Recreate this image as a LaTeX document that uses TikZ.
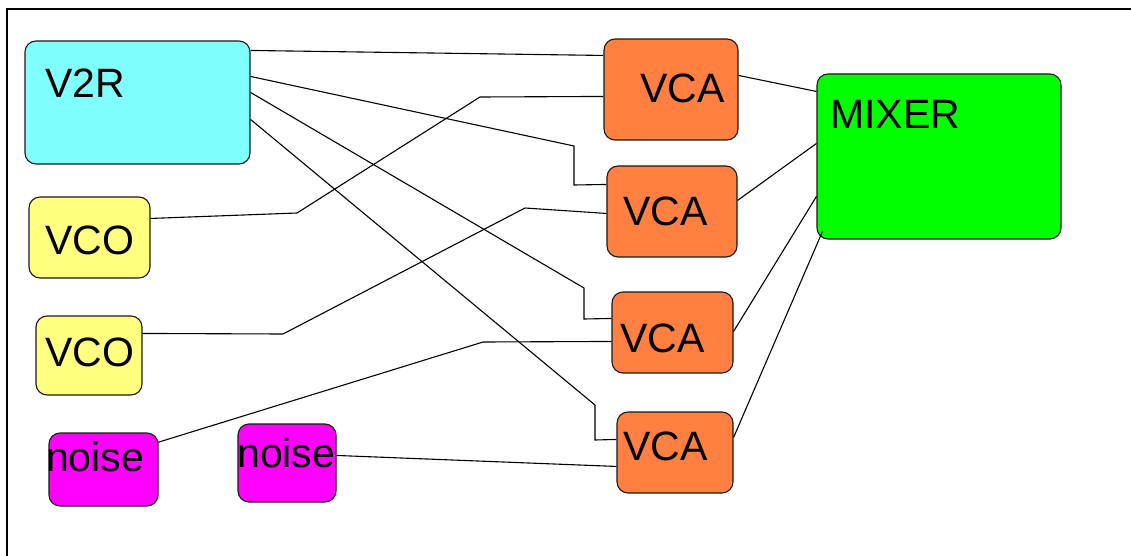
\documentclass[tikz,border=0pt]{standalone}
\usepackage{fontspec}
\setmainfont{Liberation Sans}
\usetikzlibrary{calc}

\definecolor{ctlcyan}{HTML}{80FFFF}
\definecolor{osc}{HTML}{FFFF80}
\definecolor{noisepink}{HTML}{FF00FF}
\definecolor{amp}{HTML}{FF8040}
\definecolor{mix}{HTML}{00FF00}

\begin{document}
\begin{tikzpicture}[x=1pt, y=-1pt,
    box/.style={draw=black!90, line width=1.1pt, rounded corners=11pt, inner sep=0pt},
    boxtext/.style={anchor=base west, inner sep=0pt, font=\fontsize{41}{48}\selectfont},
    wire/.style={draw=black, line width=1.1pt}
]
    \useasboundingbox (0,0) rectangle (1131,556);

    % Frame
    \draw[line width=1.2pt] (7,556) -- (7,9) -- (1131,9);

    % Control and sources
    \node[box, fill=ctlcyan, minimum width=225pt, minimum height=123pt] (v2r) at (137.5,102.5) {};
    \node[box, fill=osc, minimum width=121pt, minimum height=81pt] (vco1) at (89.5,237.5) {};
    \node[box, fill=osc, minimum width=106pt, minimum height=79pt] (vco2) at (89,355.5) {};
    \node[box, fill=noisepink, minimum width=109pt, minimum height=73pt] (noise1) at (103.5,469.5) {};
    \node[box, fill=noisepink, minimum width=98pt, minimum height=78pt] (noise2) at (287,463) {};

    % Amplifiers
    \node[box, fill=amp, minimum width=134pt, minimum height=101pt] (vca1) at (671,89.5) {};
    \node[box, fill=amp, minimum width=130pt, minimum height=91pt] (vca2) at (672,211.5) {};
    \node[box, fill=amp, minimum width=121pt, minimum height=81pt] (vca3) at (672.5,332.5) {};
    \node[box, fill=amp, minimum width=116pt, minimum height=81pt] (vca4) at (675,452.5) {};

    % Mixer
    \node[box, fill=mix, minimum width=244pt, minimum height=165pt] (mixer) at (939,156.5) {};

    % Box texts
    \node[boxtext] (v2rtext) at (45,98) {V2R};
    \node[boxtext] (vco1text) at (45,254) {VCO};
    \node[boxtext] (vco2text) at (45,366) {VCO};
    \node[boxtext] (noise1text) at (46,471) {noise};
    \node[boxtext] (noise2text) at (237,467) {noise};
    \node[boxtext] (vca1text) at (640,103) {VCA};
    \node[boxtext] (vca2text) at (623,225) {VCA};
    \node[boxtext] (vca3text) at (620,352) {VCA};
    \node[boxtext] (vca4text) at (623,460) {VCA};
    \node[boxtext] (mixertext) at (830,129) {MIXER};

    % V2R control lines
    \draw[wire] ($(v2r.north east)+(0,10)$) -- ($(vca1.north west)+(0,17)$);
    \draw[wire] ($(v2r.north east)+(0,36)$) -- (574,146) -- (574,185) -- ($(vca2.north west)+(0,19)$);
    \draw[wire] ($(v2r.north east)+(0,52)$) -- (584,288) -- (584,319) -- ($(vca3.north west)+(0,27)$);
    \draw[wire] ($(v2r.north east)+(0,79)$) -- (595,405) -- (595,440) -- ($(vca4.north west)+(0,28)$);

    % Audio into the amplifiers
    \draw[wire] ($(vco1.north east)+(0,22)$) -- (297,213) -- (480,97) -- ($(vca1.north west)+(0,58)$);
    \draw[wire] ($(vco2.north east)+(0,18)$) -- (283,334) -- (525,208) -- ($(vca2.north west)+(0,48)$);
    \draw[wire] ($(noise1.north east)+(-1,10)$) -- (483,342) -- ($(vca3.north west)+(0,50)$);
    \draw[wire] ($(noise2.north east)+(0,32)$) -- ($(vca4.north west)+(0,55)$);

    % Amplifiers to mixer
    \draw[wire] ($(vca1.north east)+(0,37)$) -- ($(mixer.north west)+(0,18)$);
    \draw[wire] ($(vca2.north east)+(0,35)$) -- ($(mixer.north west)+(0,70)$);
    \draw[wire] ($(vca3.north east)+(0,40)$) -- ($(mixer.north west)+(0,123)$);
    \draw[wire] ($(vca4.north east)+(0,26)$) -- ($(mixer.south west)+(6,-8)$);
\end{tikzpicture}
\end{document}
